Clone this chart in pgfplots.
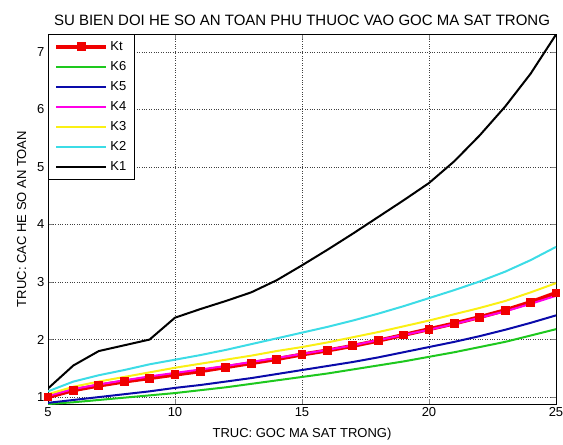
\documentclass[border=0pt]{standalone}
\usepackage{pgfplots}
\pgfplotsset{compat=1.18}
\usepackage{fontspec}
\setmainfont{Liberation Sans}
\definecolor{mred}{RGB}{240,0,0}
\definecolor{mgreen}{RGB}{30,200,30}
\definecolor{mblue}{RGB}{10,10,170}
\definecolor{mmag}{RGB}{255,0,230}
\definecolor{myel}{RGB}{250,240,20}
\definecolor{mcyan}{RGB}{60,220,230}
\begin{document}
\begin{tikzpicture}
\useasboundingbox (0,0) rectangle (563pt,445pt);
\begin{axis}[
  at={(48pt,41pt)}, anchor=south west,
  scale only axis, width=508pt, height=370pt,
  xmin=5, xmax=25, ymin=0.88, ymax=7.31,
  xtick={5,10,15,20,25}, ytick={1,2,3,4,5,6,7},
  tick align=inside, tick pos=both,
  major tick length=5pt,
  grid=major, major grid style={dotted, black!75, line width=0.6pt},
  axis line style={black, line width=0.7pt},
  font=\fontsize{13}{15}\selectfont,
  /pgf/number format/assume math mode=true,
  xticklabel style={yshift=0pt},
  title={SU BIEN DOI HE SO AN TOAN PHU THUOC VAO GOC MA SAT TRONG},
  title style={font=\fontsize{15}{17}\selectfont, yshift=-1pt},
  xlabel={TRUC: GOC MA SAT TRONG)},
  ylabel={TRUC: CAC HE SO AN TOAN},
  xlabel style={yshift=-8pt, inner sep=0pt},
  ylabel style={yshift=4pt},
  legend style={at={(0,1)}, anchor=north west, draw=black, fill=white, line width=0.7pt,
    font=\fontsize{13}{15}\selectfont, row sep=5.5pt, inner ysep=5pt, inner xsep=6pt,
    legend cell align=left},
  legend image code/.code={
    \draw[#1, mark repeat=2, mark phase=2] plot coordinates {(0pt,0pt) (25pt,0pt) (50pt,0pt)};},
]
\addplot[mred, line width=4pt, mark=square*, mark size=2.4pt, mark options={solid}] coordinates {
(5,1.00) (6,1.12) (7,1.20) (8,1.27) (9,1.33) (10,1.39) (11,1.45) (12,1.52) (13,1.59) (14,1.66) (15,1.74) (16,1.81) (17,1.89) (18,1.98) (19,2.08) (20,2.18) (21,2.28) (22,2.39) (23,2.51) (24,2.65) (25,2.81)};
\addlegendentry{Kt}
\addplot[mgreen, line width=2pt] coordinates {
(5,0.88) (6,0.91) (7,0.95) (8,0.99) (9,1.03) (10,1.07) (11,1.12) (12,1.17) (13,1.23) (14,1.29) (15,1.35) (16,1.41) (17,1.48) (18,1.55) (19,1.62) (20,1.70) (21,1.78) (22,1.87) (23,1.96) (24,2.07) (25,2.18)};
\addlegendentry{K6}
\addplot[mblue, line width=2pt] coordinates {
(5,0.90) (6,0.95) (7,1.00) (8,1.05) (9,1.10) (10,1.16) (11,1.21) (12,1.27) (13,1.33) (14,1.40) (15,1.47) (16,1.54) (17,1.61) (18,1.69) (19,1.78) (20,1.87) (21,1.96) (22,2.06) (23,2.17) (24,2.29) (25,2.42)};
\addlegendentry{K5}
\addplot[mmag, line width=2pt] coordinates {
(5,1.02) (6,1.14) (7,1.22) (8,1.29) (9,1.36) (10,1.42) (11,1.48) (12,1.54) (13,1.61) (14,1.68) (15,1.75) (16,1.82) (17,1.90) (18,1.99) (19,2.08) (20,2.17) (21,2.27) (22,2.38) (23,2.49) (24,2.62) (25,2.76)};
\addlegendentry{K4}
\addplot[myel, line width=2pt] coordinates {
(5,1.05) (6,1.18) (7,1.27) (8,1.35) (9,1.43) (10,1.51) (11,1.58) (12,1.65) (13,1.72) (14,1.80) (15,1.87) (16,1.95) (17,2.04) (18,2.13) (19,2.23) (20,2.33) (21,2.44) (22,2.55) (23,2.67) (24,2.82) (25,2.98)};
\addlegendentry{K3}
\addplot[mcyan, line width=2pt] coordinates {
(5,1.10) (6,1.27) (7,1.38) (8,1.47) (9,1.57) (10,1.65) (11,1.73) (12,1.82) (13,1.92) (14,2.02) (15,2.12) (16,2.22) (17,2.33) (18,2.45) (19,2.58) (20,2.72) (21,2.86) (22,3.01) (23,3.18) (24,3.38) (25,3.61)};
\addlegendentry{K2}
\addplot[black, line width=2pt] coordinates {
(5,1.15) (6,1.55) (7,1.80) (8,1.90) (9,2.00) (10,2.38) (11,2.53) (12,2.67) (13,2.82) (14,3.03) (15,3.29) (16,3.56) (17,3.84) (18,4.13) (19,4.42) (20,4.72) (21,5.10) (22,5.55) (23,6.05) (24,6.62) (25,7.30)};
\addlegendentry{K1}
\end{axis}
\end{tikzpicture}
\end{document}
